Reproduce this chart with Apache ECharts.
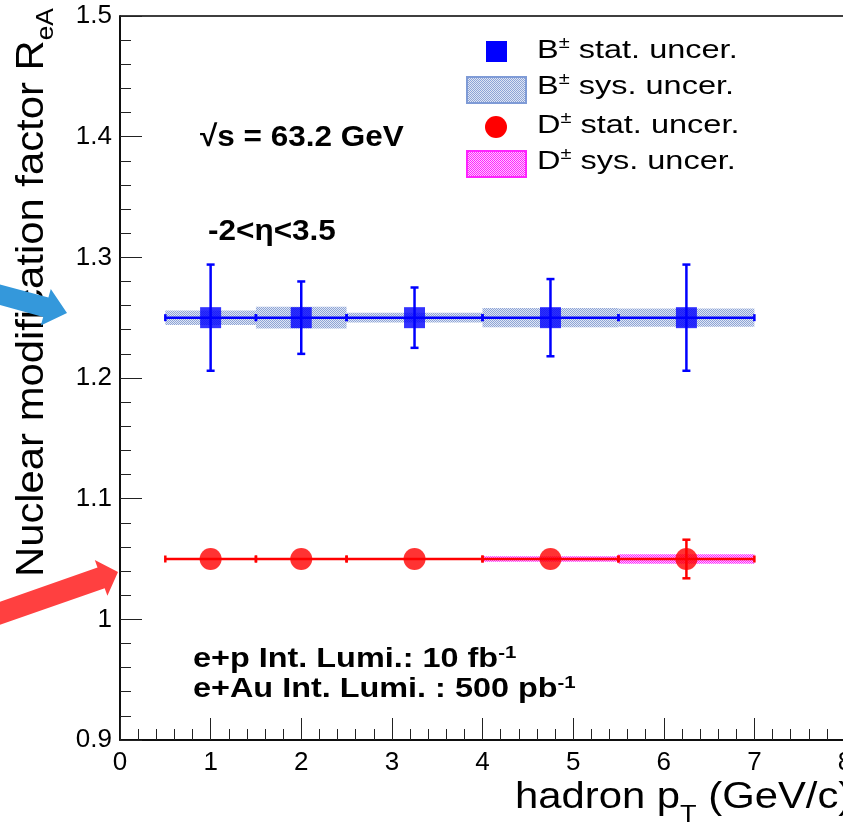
<!DOCTYPE html>
<html>
<head>
	<meta charset="utf-8">
	<title>R_eA vs hadron pT</title>
	<style>
		* { margin: 0; padding: 0; }
		body { background: #fff; overflow: hidden; }
		#chart { width: 843px; height: 834px; }
	</style>
	<script src="https://cdn.jsdelivr.net/npm/echarts@6.0.0/dist/echarts.min.js"></script>
</head>
<body>
<div id="chart"></div>
<script>
	// bin centres and edges (hadron pT, GeV/c)
	var binX = [1, 2, 3.25, 4.75, 6.25];
	var binLo = [0.5, 1.5, 2.5, 4.0, 5.5];
	var binHi = [1.5, 2.5, 4.0, 5.5, 7.0];

	// B+- values, stat and sys uncertainties
	var bVal = [1.25, 1.25, 1.25, 1.25, 1.25];
	var bStat = [0.044, 0.030, 0.025, 0.032, 0.044];
	var bSys = [0.006, 0.009, 0.004, 0.008, 0.0075];

	// D+- values, stat and sys uncertainties
	var dVal = [1.05, 1.05, 1.05, 1.05, 1.05];
	var dStat = [0.001, 0.001, 0.001, 0.001, 0.016];
	var dSys = [0, 0, 0.0008, 0.0023, 0.004];

	var FONT = '"Liberation Sans", Arial, Helvetica, sans-serif';

	function makePattern(c1, c2) {
		var cv = document.createElement('canvas');
		cv.width = 2; cv.height = 2;
		var ctx = cv.getContext('2d');
		ctx.fillStyle = c2; ctx.fillRect(0, 0, 2, 2);
		ctx.fillStyle = c1;
		ctx.fillRect(0, 0, 1, 1);
		ctx.fillRect(1, 1, 1, 1);
		return { image: cv, repeat: 'repeat' };
	}
	var bluePat = makePattern('#8ea4d6', '#dfe6f4');
	var pinkPat = makePattern('#ff22ff', '#ffc8ff');

	function rows(vals, errs) {
		return binX.map(function (x, i) {
			return [x, vals[i], binLo[i], binHi[i], errs[i]];
		});
	}

	function sysBox(fill) {
		return function (params, api) {
			var err = api.value(4);
			if (err <= 0) return null;
			var p1 = api.coord([api.value(2), api.value(1) + err]);
			var p2 = api.coord([api.value(3), api.value(1) - err]);
			return {
				type: 'rect',
				shape: { x: p1[0], y: p1[1], width: p2[0] - p1[0], height: Math.max(p2[1] - p1[1], 2) },
				style: { fill: fill }
			};
		};
	}

	function errBars(color) {
		return function (params, api) {
			var y = api.value(1), err = api.value(4);
			var c = api.coord([api.value(0), y]);
			var l = api.coord([api.value(2), y]);
			var r = api.coord([api.value(3), y]);
			var t = api.coord([api.value(0), y + err]);
			var b = api.coord([api.value(0), y - err]);
			var st = { stroke: color, lineWidth: 2.5 };
			var kids = [
				{ type: 'line', shape: { x1: l[0], y1: c[1], x2: r[0], y2: c[1] }, style: st },
				{ type: 'line', shape: { x1: l[0], y1: c[1] - 3.5, x2: l[0], y2: c[1] + 3.5 }, style: st },
				{ type: 'line', shape: { x1: r[0], y1: c[1] - 3.5, x2: r[0], y2: c[1] + 3.5 }, style: st }
			];
			if (b[1] - t[1] > 4) {
				kids.push(
					{ type: 'line', shape: { x1: c[0], y1: t[1], x2: c[0], y2: b[1] }, style: st },
					{ type: 'line', shape: { x1: c[0] - 4, y1: t[1], x2: c[0] + 4, y2: t[1] }, style: st },
					{ type: 'line', shape: { x1: c[0] - 4, y1: b[1], x2: c[0] + 4, y2: b[1] }, style: st }
				);
			}
			return { type: 'group', children: kids };
		};
	}

	var chart = echarts.init(document.getElementById('chart'), null, { renderer: 'canvas' });

	var supRich = {
		sup: { fontSize: 16, fontFamily: FONT, fill: '#000', padding: [0, 0, 14, 0] }
	};

	function legText(y, txt) {
		return {
			type: 'text', x: 537, y: y, scaleX: 1.25, z: 100,
			style: { text: txt, fontSize: 26, fontFamily: FONT, fill: '#000', align: 'left', verticalAlign: 'middle', rich: supRich }
		};
	}

	var option = {
		animation: false,
		backgroundColor: '#fff',
		grid: {
			left: 120, top: 16, right: -2, bottom: 94, show: true, borderColor: '#000', borderWidth: 1.5,
			backgroundColor: 'transparent', containLabel: false, outerBoundsMode: 'none'
		},
		xAxis: {
			type: 'value', min: 0, max: 8, interval: 1,
			axisLine: { lineStyle: { color: '#000', width: 1.5 } },
			axisTick: { inside: true, length: 22, lineStyle: { color: '#222', width: 1 } },
			minorTick: { show: true, splitNumber: 5, length: 11, lineStyle: { color: '#222', width: 1 } },
			axisLabel: { color: '#000', fontSize: 26, fontFamily: FONT, margin: 10 },
			splitLine: { show: false }
		},
		yAxis: {
			type: 'value', min: 0.9, max: 1.5, interval: 0.1,
			axisLine: { lineStyle: { color: '#000', width: 1.5 } },
			axisTick: { inside: true, length: 22, lineStyle: { color: '#222', width: 1 } },
			minorTick: { show: true, splitNumber: 5, length: 11, lineStyle: { color: '#222', width: 1 } },
			axisLabel: { color: '#000', fontSize: 26, fontFamily: FONT, margin: 8 },
			splitLine: { show: false }
		},
		series: [
			{ type: 'custom', name: 'B sys', data: rows(bVal, bSys), renderItem: sysBox(bluePat), encode: { x: [2, 3], y: 1 }, z: 1 },
			{ type: 'custom', name: 'D sys', data: rows(dVal, dSys), renderItem: sysBox(pinkPat), encode: { x: [2, 3], y: 1 }, z: 1 },
			{ type: 'custom', name: 'B stat bars', data: rows(bVal, bStat), renderItem: errBars('#0000ff'), encode: { x: [2, 3], y: 1 }, z: 2 },
			{ type: 'custom', name: 'D stat bars', data: rows(dVal, dStat), renderItem: errBars('#ff0000'), encode: { x: [2, 3], y: 1 }, z: 2 },
			{ type: 'scatter', name: 'B', data: binX.map(function (x, i) { return [x, bVal[i]]; }), symbol: 'rect', symbolSize: 21, itemStyle: { color: '#0000ff' }, z: 3 },
			{ type: 'scatter', name: 'D', data: binX.map(function (x, i) { return [x, dVal[i]]; }), symbol: 'circle', symbolSize: 22, itemStyle: { color: '#ff0000' }, z: 3 }
		],
		graphic: [
			// axis titles
			{
				type: 'text', x: 515, y: 798, scaleX: 1.13, z: 100,
				style: {
					text: 'hadron p{sub|T} (GeV/c)', fontSize: 37, fontFamily: FONT, fill: '#000', align: 'left', verticalAlign: 'middle',
					rich: { sub: { fontSize: 24, fontFamily: FONT, fill: '#000', padding: [34, 0, 0, 0] } }
				}
			},
			{
				type: 'text', x: 58, y: 577, rotation: Math.PI / 2, scaleX: 1.1, z: 100,
				style: {
					text: 'Nuclear modification factor R{sub|eA}', fontSize: 38, fontFamily: FONT, fill: '#000', align: 'left', verticalAlign: 'bottom',
					rich: { sub: { fontSize: 24, fontFamily: FONT, fill: '#000', padding: [26, 0, 0, 0] } }
				}
			},
			// annotations
			{
				type: 'text', x: 200, y: 138, scaleX: 1.05, z: 100,
				style: { text: '\u221As = 63.2 GeV', fontSize: 30, fontWeight: 'bold', fontFamily: FONT, fill: '#000', align: 'left', verticalAlign: 'middle' }
			},
			{
				type: 'text', x: 208, y: 232, scaleX: 1.05, z: 100,
				style: { text: '-2<\u03B7<3.5', fontSize: 30, fontWeight: 'bold', fontFamily: FONT, fill: '#000', align: 'left', verticalAlign: 'middle' }
			},
			{
				type: 'text', x: 193, y: 660, scaleX: 1.2, z: 100,
				style: {
					text: 'e+p Int. Lumi.: 10 fb{sup|-1}', fontSize: 27, fontWeight: 'bold', fontFamily: FONT, fill: '#000', align: 'left', verticalAlign: 'middle',
					rich: { sup: { fontSize: 17, fontWeight: 'bold', fontFamily: FONT, fill: '#000', padding: [0, 0, 14, 0] } }
				}
			},
			{
				type: 'text', x: 193, y: 690, scaleX: 1.2, z: 100,
				style: {
					text: 'e+Au Int. Lumi. : 500 pb{sup|-1}', fontSize: 27, fontWeight: 'bold', fontFamily: FONT, fill: '#000', align: 'left', verticalAlign: 'middle',
					rich: { sup: { fontSize: 17, fontWeight: 'bold', fontFamily: FONT, fill: '#000', padding: [0, 0, 14, 0] } }
				}
			},
			// legend
			{ type: 'rect', z: 100, shape: { x: 486, y: 41, width: 21, height: 21 }, style: { fill: '#0000ff' } },
			{ type: 'rect', z: 100, shape: { x: 467, y: 77, width: 59, height: 26 }, style: { fill: bluePat, stroke: '#7f9bd6', lineWidth: 2 } },
			{ type: 'circle', z: 100, shape: { cx: 496, cy: 127, r: 11 }, style: { fill: '#ff0000' } },
			{ type: 'rect', z: 100, shape: { x: 467, y: 151, width: 59, height: 26 }, style: { fill: pinkPat, stroke: '#ff22ff', lineWidth: 2 } },
			legText(51, 'B{sup|\u00B1} stat. uncer.'),
			legText(87, 'B{sup|\u00B1} sys. uncer.'),
			legText(126, 'D{sup|\u00B1} stat. uncer.'),
			legText(162, 'D{sup|\u00B1} sys. uncer.'),
			// arrows pointing in from the left
			{
				type: 'polygon', z: 110,
				shape: { points: [[-12.6, 301.6], [43.2, 316.9], [40.8, 325.5], [67, 313], [50.8, 288.9], [48.4, 297.5], [-7.4, 282.4]] },
				style: { fill: '#3498db' }
			},
			{
				type: 'polygon', z: 110,
				shape: { points: [[-6.4, 627.1], [104.7, 588.2], [107.4, 595.8], [118, 572], [94.8, 560], [97.5, 567.6], [-13.6, 606.5]] },
				style: { fill: '#ff4040' }
			}
		]
	};

	chart.setOption(option);
</script>
</body>
</html>
